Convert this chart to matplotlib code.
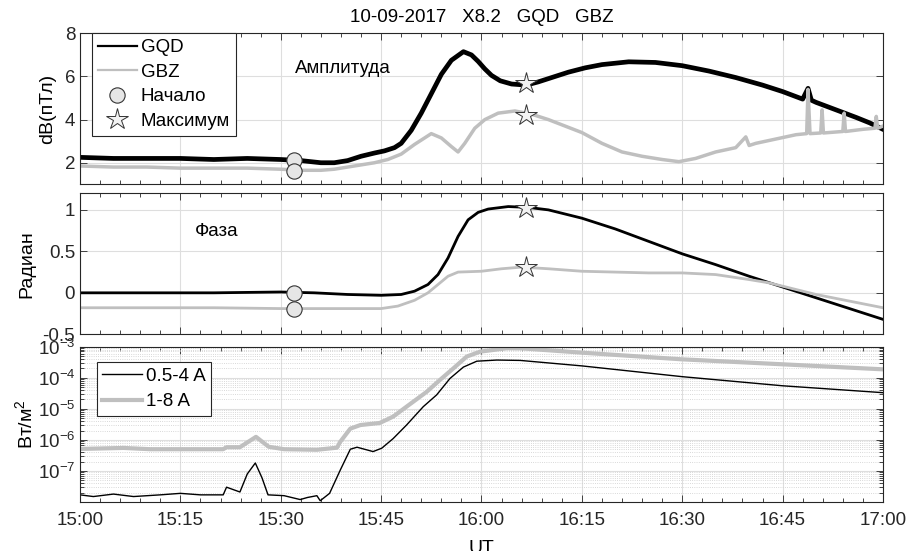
import matplotlib
matplotlib.use("Agg")
import matplotlib.pyplot as plt
from matplotlib.ticker import MultipleLocator, LogLocator, NullFormatter
from matplotlib.lines import Line2D

plt.rcParams['font.family'] = ['Liberation Sans', 'DejaVu Sans']
plt.rcParams['mathtext.fontset'] = 'custom'
plt.rcParams['mathtext.rm'] = 'Liberation Sans'
plt.rcParams['font.size'] = 13.5

# time in minutes after 15:00 UT
xtick_pos = [0, 15, 30, 45, 60, 75, 90, 105, 120]
xtick_labels = ['15:00', '15:15', '15:30', '15:45', '16:00', '16:15', '16:30', '16:45', '17:00']

# amplitude, GQD
t_amp_gqd = [0, 5, 10, 15, 20, 25, 30, 33, 36, 38, 40, 42, 44, 45.5, 47, 48, 49.5, 51, 52.5, 54,
             55.5, 57.3, 58.5, 59.5, 60.5, 61.5, 62.8, 64.5, 66.7, 68.5, 70.5, 73, 75.5, 78, 82,
             86, 90, 94, 98, 102, 105, 108, 108.8, 109.3, 110, 113, 116, 118, 120]
amp_gqd = [2.25, 2.2, 2.2, 2.2, 2.15, 2.2, 2.15, 2.1, 2.0, 2.0, 2.1, 2.3, 2.45, 2.55, 2.7, 2.9,
           3.5, 4.3, 5.2, 6.1, 6.75, 7.15, 7.0, 6.7, 6.35, 6.05, 5.8, 5.65, 5.6, 5.75, 5.95, 6.2,
           6.4, 6.55, 6.68, 6.65, 6.5, 6.25, 5.95, 5.6, 5.3, 4.95, 5.45, 4.9, 4.8, 4.45, 4.1,
           3.85, 3.55]

# amplitude, GBZ
t_amp_gbz = [0, 5, 10, 15, 20, 25, 30, 33, 36, 38, 41, 44, 46, 48, 50, 52.5, 54, 55.5, 56.5,
             57.5, 59, 60.5, 62.5, 65, 67.5, 70, 72.5, 75, 78, 81, 84, 87, 89.5, 92, 95, 98,
             99.5, 100, 101, 104, 107, 108.6, 108.8, 109.1, 110.7, 110.9, 111.1, 114, 114.2,
             114.4, 117, 118.8, 119, 119.2, 120]
amp_gbz = [1.85, 1.8, 1.8, 1.75, 1.75, 1.75, 1.7, 1.65, 1.65, 1.7, 1.85, 2.0, 2.15, 2.4, 2.85,
           3.35, 3.15, 2.75, 2.5, 2.9, 3.6, 4.0, 4.3, 4.4, 4.25, 4.0, 3.7, 3.4, 2.9, 2.5, 2.3,
           2.15, 2.05, 2.2, 2.5, 2.7, 3.2, 2.8, 2.9, 3.1, 3.3, 3.35, 5.4, 3.35, 3.38, 4.45, 3.38,
           3.45, 4.3, 3.45, 3.55, 3.6, 4.15, 3.6, 3.7]

# phase
t_ph_gqd = [0, 10, 20, 30, 35, 40, 45, 48, 50, 52, 53.5, 55, 56.5, 58, 59.5, 61, 64, 67, 70,
            75, 80, 85, 90, 95, 100, 105, 110, 115, 120]
ph_gqd = [0.0, 0.0, 0.0, 0.01, 0.0, -0.02, -0.03, -0.02, 0.02, 0.1, 0.22, 0.42, 0.68, 0.88,
          0.97, 1.01, 1.04, 1.03, 1.0, 0.9, 0.77, 0.62, 0.47, 0.34, 0.2, 0.07, -0.06, -0.19,
          -0.32]
t_ph_gbz = [0, 10, 20, 30, 40, 45, 47.5, 50, 52, 53.5, 55, 56.5, 60, 63, 66, 70, 75, 80, 85,
            90, 95, 100, 103, 106, 110, 115, 120]
ph_gbz = [-0.18, -0.18, -0.18, -0.19, -0.19, -0.19, -0.16, -0.09, 0.0, 0.1, 0.2, 0.25, 0.26,
          0.29, 0.31, 0.29, 0.26, 0.25, 0.24, 0.24, 0.22, 0.16, 0.12, 0.06, -0.02, -0.1, -0.18]

# start / maximum marks
t_start = 32.0
start_amp = [2.15, 1.6]
start_ph = [0.0, -0.19]
t_max = 66.7
max_amp = [5.68, 4.2]
max_ph = [1.02, 0.31]

# GOES X-ray flux
t_xs = [0, 2, 5, 8, 12, 15, 18, 21.4, 21.9, 23.9, 25, 26.2, 27.2, 28.1, 30.5, 32.9, 34, 35.4,
        35.9, 37.3, 38.9, 40.4, 41.4, 43.8, 45.1, 46.8, 48.8, 51.3, 53.3, 55.3, 57.3, 59.3,
        62.3, 65.8, 75, 90, 105, 120]
xs = [1.7e-8, 1.5e-8, 1.8e-8, 1.5e-8, 1.7e-8, 1.9e-8, 1.7e-8, 1.7e-8, 3.0e-8, 2.1e-8, 8e-8,
      1.8e-7, 6e-8, 1.7e-8, 1.6e-8, 1.2e-8, 1.4e-8, 1.6e-8, 1.1e-8, 1.9e-8, 1.07e-7, 5e-7,
      5.8e-7, 4.2e-7, 5.4e-7, 1.1e-6, 3e-6, 1.17e-5, 2.8e-5, 9.5e-5, 2.2e-4, 3.4e-4, 3.7e-4,
      3.6e-4, 2.4e-4, 1.08e-4, 5.5e-5, 3.3e-5]
t_xl = [0, 6.5, 10.5, 21.4, 21.9, 23.9, 26.3, 28.2, 30.5, 35.4, 38.4, 38.9, 40.4, 41.9, 44.8,
        46.8, 48.8, 51.8, 53.8, 55.8, 57.8, 59.8, 63.8, 66, 75, 90, 105, 120]
xl = [5.1e-7, 5.5e-7, 5e-7, 5e-7, 5.8e-7, 5.8e-7, 1.25e-6, 6e-7, 5e-7, 4.8e-7, 5.6e-7, 8.7e-7,
      2.3e-6, 3e-6, 3.5e-6, 5.6e-6, 1.17e-5, 3.5e-5, 8.5e-5, 2e-4, 4.8e-4, 6.9e-4, 8.9e-4,
      8.8e-4, 6.4e-4, 3.9e-4, 2.7e-4, 1.86e-4]

gray = (0.75, 0.75, 0.75)
gridc = (0.87, 0.87, 0.87)
dark = (0.15, 0.15, 0.15)
circ = dict(marker='o', ms=11, mfc=(0.9, 0.9, 0.9), mec=(0.2, 0.2, 0.2), mew=0.8, ls='none')
star = dict(marker='*', ms=16, mfc=(0.95, 0.95, 0.95), mec=(0.2, 0.2, 0.2), mew=0.7, ls='none')

fig = plt.figure(figsize=(9.07, 5.51), dpi=100)
ax1 = fig.add_axes([0.0882, 0.6655, 0.8853, 0.274])
ax2 = fig.add_axes([0.0882, 0.3933, 0.8853, 0.2559])
ax3 = fig.add_axes([0.0882, 0.0889, 0.8853, 0.282])

for ax in (ax1, ax2, ax3):
    ax.set_xlim(0, 120)
    ax.set_xticks(xtick_pos)
    ax.xaxis.set_minor_locator(MultipleLocator(3))
    ax.tick_params(which='both', direction='in', top=True, right=True, width=0.6,
                   colors=dark, labelcolor=dark)
    ax.tick_params(which='major', length=5)
    ax.tick_params(which='minor', length=3)
    ax.tick_params(axis='x', pad=7)
    ax.grid(True, which='major', color=gridc, linewidth=0.8)
    ax.set_axisbelow(True)
    for s in ax.spines.values():
        s.set_color(dark)
        s.set_linewidth(0.8)

# amplitude
ax1.plot(t_amp_gqd, amp_gqd, color='black', lw=3.4)
ax1.plot(t_amp_gbz, amp_gbz, color=gray, lw=2.5)
ax1.plot([t_start] * 2, start_amp, **circ)
ax1.plot([t_max] * 2, max_amp, **star)
ax1.set_ylim(1, 8)
ax1.set_yticks([2, 4, 6, 8])
ax1.set_xticklabels([])
ax1.set_ylabel('dB(пТл)', fontsize=14)
ax1.yaxis.set_label_coords(-0.03, 0.5)
ax1.text(32.1, 6.38, 'Амплитуда', ha='left', va='center')
handles1 = [Line2D([], [], color='black', lw=1.6), Line2D([], [], color=gray, lw=1.6),
            Line2D([], [], **circ), Line2D([], [], **star)]
leg1 = ax1.legend(handles1, ['GQD', 'GBZ', 'Начало', 'Максимум'], loc='upper left',
                  bbox_to_anchor=(0.015, 1.0), borderaxespad=0, handlelength=2.1,
                  handletextpad=0.2, labelspacing=0.4, borderpad=0.3, fancybox=False)
leg1.get_frame().set_edgecolor(dark)
leg1.get_frame().set_linewidth(0.8)
leg1.get_frame().set_alpha(1)

# phase
ax2.plot(t_ph_gqd, ph_gqd, color='black', lw=2.0)
ax2.plot(t_ph_gbz, ph_gbz, color=gray, lw=2.0)
ax2.plot([t_start] * 2, start_ph, **circ)
ax2.plot([t_max] * 2, max_ph, **star)
ax2.set_ylim(-0.5, 1.2)
ax2.set_yticks([-0.5, 0, 0.5, 1])
ax2.set_yticklabels(['-0.5', '0', '0.5', '1'])
ax2.set_xticklabels([])
ax2.set_ylabel('Радиан', fontsize=14)
ax2.yaxis.set_label_coords(-0.055, 0.5)
ax2.text(17.2, 0.74, 'Фаза', ha='left', va='center')

# X-ray flux
ax3.semilogy(t_xs, xs, color='black', lw=1.0, label='0.5-4 A')
ax3.semilogy(t_xl, xl, color=gray, lw=3.0, label='1-8 A')
ax3.set_ylim(1e-8, 1e-3)
ax3.set_yticks([1e-7, 1e-6, 1e-5, 1e-4, 1e-3])
ax3.yaxis.set_minor_locator(LogLocator(base=10, subs=range(2, 10), numticks=20))
ax3.yaxis.set_minor_formatter(NullFormatter())
ax3.grid(True, which='minor', axis='y', color=(0.8, 0.8, 0.8), linewidth=0.6, linestyle=':')
ax3.set_xticklabels(xtick_labels)
ax3.set_ylabel('Вт/м$^2$', fontsize=14)
ax3.yaxis.set_label_coords(-0.053, 0.5)
ax3.set_xlabel('UT', fontsize=14, labelpad=8)
leg3 = ax3.legend(loc='upper left', bbox_to_anchor=(0.021, 0.9), borderaxespad=0,
                  handlelength=2.1, handletextpad=0.2, labelspacing=0.45, borderpad=0.3,
                  fancybox=False)
leg3.get_frame().set_edgecolor(dark)
leg3.get_frame().set_linewidth(0.8)
leg3.get_frame().set_alpha(1)

fig.text(0.531, 1 - 18 / 551, '10-09-2017   X8.2   GQD   GBZ', ha='center', va='center',
         fontsize=13.5)

fig.savefig('out.png', dpi=100)
